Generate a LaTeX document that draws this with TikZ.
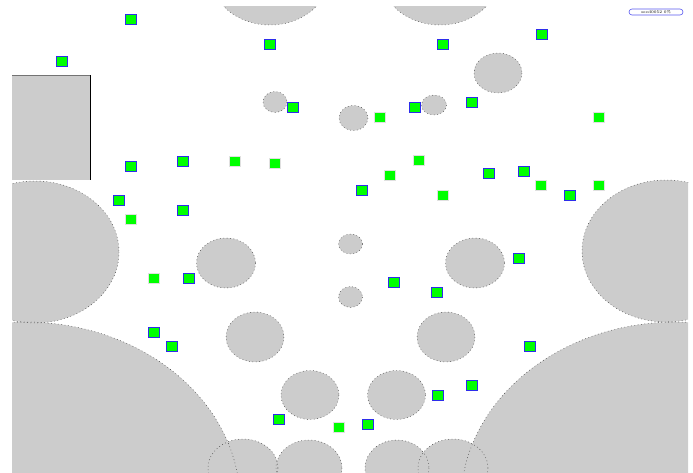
\documentclass[tikz,border=0pt]{standalone}
\usepackage{tikz}
\definecolor{obstgray}{RGB}{204,204,204}
\definecolor{botgreen}{RGB}{0,255,0}
\definecolor{botblue}{RGB}{45,45,235}
% all obstacle ellipses, drawn twice (fill, then outline)
\newcommand\obstpaths[1]{%
  \path[#1] (270,-26) ellipse [x radius=60,y radius=51];
  \path[#1] (440,-26) ellipse [x radius=60,y radius=51];
  \path[#1] (35,252) ellipse [x radius=84,y radius=71];
  \path[#1] (666,251) ellipse [x radius=84,y radius=71];
  \path[#1] (25,502) ellipse [x radius=215,y radius=180];
  \path[#1] (676,502) ellipse [x radius=215,y radius=180];
  \path[#1] (243,468) ellipse [x radius=35,y radius=29];
  \path[#1] (309,468) ellipse [x radius=33,y radius=28];
  \path[#1] (397,468) ellipse [x radius=32,y radius=28];
  \path[#1] (453,468) ellipse [x radius=35,y radius=29];
  \path[#1] (226,263) ellipse [x radius=29.5,y radius=25];
  \path[#1] (475,263) ellipse [x radius=29.5,y radius=25];
  \path[#1] (255,337) ellipse [x radius=29,y radius=25];
  \path[#1] (446,337) ellipse [x radius=29,y radius=25];
  \path[#1] (310,395) ellipse [x radius=29,y radius=24.5];
  \path[#1] (396.5,395) ellipse [x radius=29,y radius=24.5];
  \path[#1] (350.5,244) ellipse [x radius=12,y radius=10];
  \path[#1] (350.5,297) ellipse [x radius=12,y radius=10.5];
  \path[#1] (275,102) ellipse [x radius=12,y radius=10.5];
  \path[#1] (353.5,118) ellipse [x radius=14.5,y radius=12.5];
  \path[#1] (434,105) ellipse [x radius=12.5,y radius=10];
  \path[#1] (498,73) ellipse [x radius=24,y radius=20];
}
\begin{document}
\begin{tikzpicture}[x=1pt,y=-1pt,
  obstline/.style={draw=black!75,line width=0.45pt,dash pattern=on 0.8pt off 2.6pt},
  bot/.style={draw=botblue,fill=botgreen,line width=0.8pt,minimum width=11pt,minimum height=10pt,inner sep=0pt},
  botg/.style={bot,draw=black!12}]
\useasboundingbox (0,0) rectangle (693,472);
% obstacles
\begin{scope}
\clip (12,6) rectangle (688,472);
\obstpaths{fill=obstgray}
\obstpaths{obstline}
\end{scope}
\fill[obstgray] (12,75) rectangle (90,180);
\draw[black!55,line width=0.8pt] (12,75) -- (90,75);
\draw[black,line width=0.8pt] (90,75) -- (90,180);
% robots
\node[bot] (r1) at (130.5,19.5) {}; \node[bot] (r2) at (61.5,61) {};
\node[bot] (r3) at (269.5,44) {}; \node[bot] (r4) at (443,44) {};
\node[bot] (r5) at (541.5,34) {}; \node[bot] (r6) at (293,107) {};
\node[bot] (r7) at (414.5,107.5) {}; \node[bot] (r8) at (472,102) {};
\node[botg] (r9) at (379.5,117) {}; \node[botg] (r10) at (599,117) {};
\node[bot] (r11) at (130.5,166) {}; \node[bot] (r12) at (182.5,161) {};
\node[botg] (r13) at (235,161) {}; \node[botg] (r14) at (275,163) {};
\node[botg] (r15) at (419,160) {}; \node[botg] (r16) at (390,175) {};
\node[bot] (r17) at (362,190) {}; \node[bot] (r18) at (489,173.5) {};
\node[bot] (r19) at (524,171) {}; \node[botg] (r20) at (541,185.5) {};
\node[bot] (r21) at (570,195) {}; \node[botg] (r22) at (599,185) {};
\node[botg] (r23) at (443,195) {}; \node[bot] (r24) at (119,200) {};
\node[botg] (r25) at (130.5,219) {}; \node[bot] (r26) at (182.5,210) {};
\node[bot] (r27) at (518.5,258.5) {}; \node[botg] (r28) at (154,278) {};
\node[bot] (r29) at (189,278) {}; \node[bot] (r30) at (394,282.5) {};
\node[bot] (r31) at (437,292.5) {}; \node[bot] (r32) at (154,332) {};
\node[bot] (r33) at (171.5,346.5) {}; \node[bot] (r34) at (530,346.5) {};
\node[bot] (r35) at (472,385.5) {}; \node[bot] (r36) at (437.5,395.5) {};
\node[bot] (r37) at (278.5,419.5) {}; \node[botg] (r38) at (339,427) {};
\node[bot] (r39) at (368,424) {};
% status
\node[draw=botblue!80,line width=0.6pt,rounded corners=3pt,minimum width=54pt,minimum height=6pt,inner sep=0pt,font=\fontsize{4}{4}\selectfont] (stat) at (656,12) {seed0052 0\%};
\end{tikzpicture}
\end{document}
